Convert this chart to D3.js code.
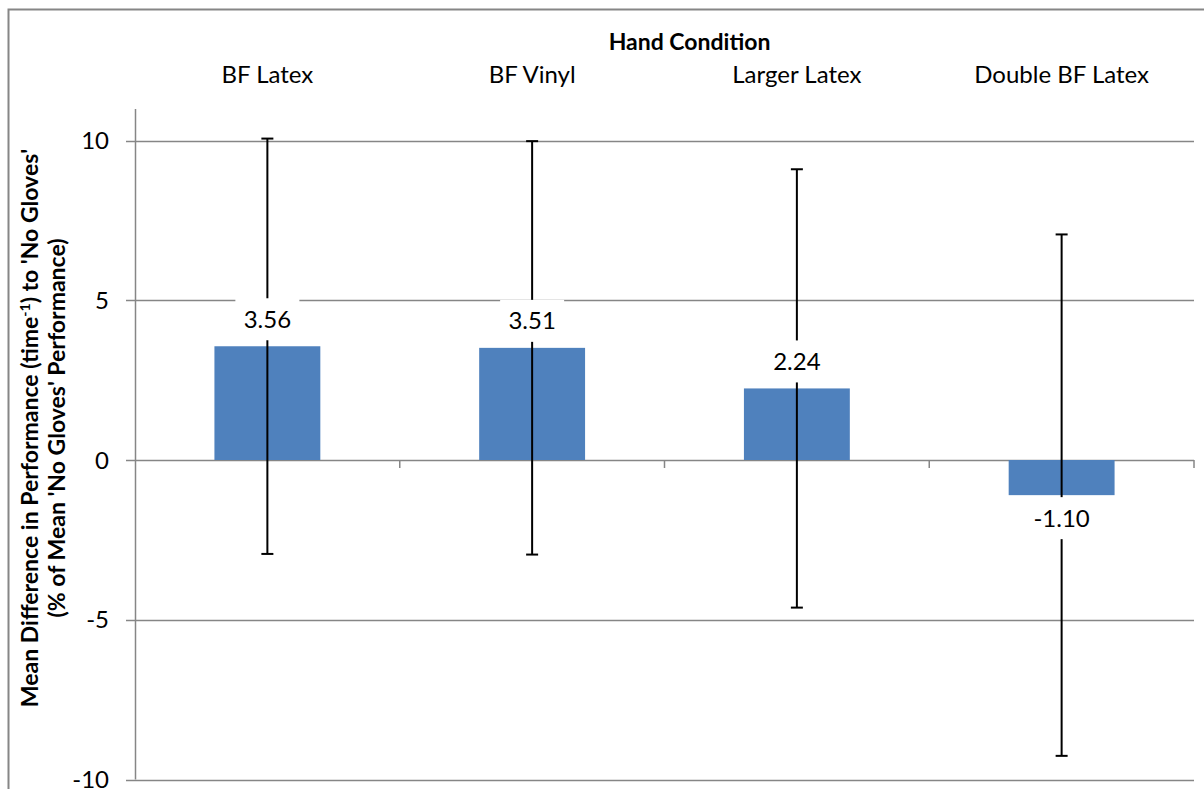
<!DOCTYPE html>
<html>
<head>
<meta charset="utf-8">
<script src="https://cdn.jsdelivr.net/npm/d3@7"></script>
<style>
  body { margin: 0; background: #fff; }
  text { font-family: Lato, "Open Sans", sans-serif; }
</style>
</head>
<body>
<div id="chart"></div>
<script>
// data
const categories = ["BF Latex", "BF Vinyl", "Larger Latex", "Double BF Latex"];
const means = [3.56, 3.51, 2.24, -1.10];
const errors = [6.50, 6.47, 6.86, 8.16];
const yTicks = [-10, -5, 0, 5, 10];

const W = 1204, H = 789;
const margin = { top: 109, right: 10, bottom: 10, left: 135 };

const svg = d3.select("#chart").append("svg")
  .attr("width", W)
  .attr("height", H);

// outer chart border (runs off the picture at right / bottom)
svg.append("rect")
  .attr("x", 8.5).attr("y", 9.5)
  .attr("width", 1220).attr("height", 800)
  .attr("fill", "none")
  .attr("stroke", "#868686")
  .attr("stroke-width", 2);

const plotRight = 1194;

// =====================
// SCALES
// =====================
const y = d3.scaleLinear()
  .domain([-10, 10])
  .range([779.5, 140.5]);

const x = d3.scaleBand()
  .domain(categories)
  .range([margin.left, plotRight])
  .paddingInner(0)
  .paddingOuter(0);

const barW = x.bandwidth() * 0.4;
const grey = "#868686";

// gridlines
svg.append("g")
  .selectAll("line")
  .data(yTicks)
  .join("line")
  .attr("x1", margin.left)
  .attr("x2", plotRight)
  .attr("y1", d => Math.round(y(d)) + 0.5)
  .attr("y2", d => Math.round(y(d)) + 0.5)
  .attr("stroke", grey)
  .attr("stroke-width", 1.5);

// y axis line
svg.append("line")
  .attr("x1", margin.left + 0.5).attr("x2", margin.left + 0.5)
  .attr("y1", margin.top).attr("y2", y(-10))
  .attr("stroke", grey).attr("stroke-width", 1.5);

// y ticks + labels
const yAx = svg.append("g");
yAx.selectAll("line")
  .data(yTicks)
  .join("line")
  .attr("x1", margin.left - 9).attr("x2", margin.left)
  .attr("y1", d => Math.round(y(d)) + 0.5)
  .attr("y2", d => Math.round(y(d)) + 0.5)
  .attr("stroke", grey).attr("stroke-width", 1.5);
yAx.selectAll("text")
  .data(yTicks)
  .join("text")
  .attr("x", 109)
  .attr("y", d => y(d))
  .attr("dy", "0.36em")
  .attr("text-anchor", "end")
  .attr("font-size", 24)
  .attr("fill", "#000")
  .text(d => d);

// category ticks on zero line
svg.append("g")
  .selectAll("line")
  .data(categories)
  .join("line")
  .attr("x1", d => x(d) + x.bandwidth())
  .attr("x2", d => x(d) + x.bandwidth())
  .attr("y1", y(0)).attr("y2", y(0) + 8)
  .attr("stroke", grey).attr("stroke-width", 1.5);

// category labels on top
svg.append("g")
  .selectAll("text")
  .data(categories)
  .join("text")
  .attr("x", d => x(d) + x.bandwidth() / 2)
  .attr("y", 83)
  .attr("text-anchor", "middle")
  .attr("font-size", 24)
  .text(d => d);

svg.append("text")
  .attr("x", (margin.left + plotRight) / 2 + 25)
  .attr("y", 50)
  .attr("text-anchor", "middle")
  .attr("font-size", 23)
  .attr("font-weight", "bold")
  .text("Hand Condition");

// y axis title
const yt = svg.append("text")
  .attr("transform", "translate(38,428) rotate(-90)")
  .attr("text-anchor", "middle")
  .attr("font-size", 23)
  .attr("font-weight", "bold");
yt.append("tspan").text("Mean Difference in Performance (time");
yt.append("tspan").attr("font-size", 14).attr("dy", -8).text("-1");
yt.append("tspan").attr("dy", 8).text(") to 'No Gloves'");
svg.append("text")
  .attr("transform", "translate(65,428) rotate(-90)")
  .attr("text-anchor", "middle")
  .attr("font-size", 23)
  .attr("font-weight", "bold")
  .text("(% of Mean 'No Gloves' Performance)");

// =====================
// BARS
// =====================
const rows = categories.map((c, i) => ({ c, v: means[i], e: errors[i] }));

svg.append("g")
  .selectAll("rect")
  .data(rows)
  .join("rect")
  .attr("x", d => x(d.c) + (x.bandwidth() - barW) / 2)
  .attr("width", barW)
  .attr("y", d => y(Math.max(0, d.v)))
  .attr("height", d => Math.abs(y(d.v) - y(0)))
  .attr("fill", "#4F81BD");

// error bars
const eb = svg.append("g").attr("stroke", "#000").attr("stroke-width", 2);
eb.selectAll(".stem")
  .data(rows)
  .join("line")
  .attr("x1", d => x(d.c) + x.bandwidth() / 2)
  .attr("x2", d => x(d.c) + x.bandwidth() / 2)
  .attr("y1", d => y(d.v + d.e))
  .attr("y2", d => y(d.v - d.e));
eb.selectAll(".capT")
  .data(rows)
  .join("line")
  .attr("x1", d => x(d.c) + x.bandwidth() / 2 - 6)
  .attr("x2", d => x(d.c) + x.bandwidth() / 2 + 6)
  .attr("y1", d => y(d.v + d.e))
  .attr("y2", d => y(d.v + d.e));
eb.selectAll(".capB")
  .data(rows)
  .join("line")
  .attr("x1", d => x(d.c) + x.bandwidth() / 2 - 6)
  .attr("x2", d => x(d.c) + x.bandwidth() / 2 + 6)
  .attr("y1", d => y(d.v - d.e))
  .attr("y2", d => y(d.v - d.e));

// data labels with white boxes
const lab = svg.append("g")
  .selectAll("g")
  .data(rows)
  .join("g")
  .attr("transform", d => {
    const cy = d.v >= 0 ? y(d.v) - 27 : y(d.v) + 23;
    return `translate(${x(d.c) + x.bandwidth() / 2},${cy})`;
  });
lab.append("rect")
  .attr("x", -32).attr("y", -21)
  .attr("width", 64).attr("height", 42)
  .attr("fill", "#fff");
lab.append("text")
  .attr("text-anchor", "middle")
  .attr("dy", "0.36em")
  .attr("font-size", 24)
  .text(d => d.v.toFixed(2));
</script>
</body>
</html>
